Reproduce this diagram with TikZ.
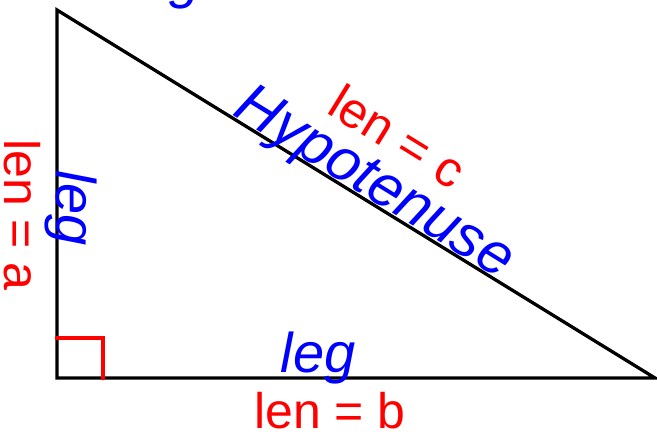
\documentclass[tikz,border=0pt]{standalone}
\usepackage{fontspec}
\setmainfont{Liberation Sans}
\usetikzlibrary{calc}
\tikzset{
 legtext/.style={text=blue,inner sep=0pt,font=\fontsize{56}{60}\selectfont\itshape},
 lentext/.style={text=red,inner sep=0pt,font=\fontsize{50}{54}\selectfont},
}
\begin{document}
\begin{tikzpicture}[x=1pt,y=-1pt,line width=3.3pt]
 \useasboundingbox (0,0) rectangle (657,434);
 % corners of the triangle
 \coordinate (A) at (57,10);
 \coordinate (C) at (57,378);
 \coordinate (B) at (655,378);
 \draw (A)--(C)--(B)--cycle;
 % right angle mark
 \coordinate (R1) at ($(C)+(0,-40)$);
 \coordinate (R2) at ($(C)+(46,-40)$);
 \coordinate (R3) at ($(C)+(46,0)$);
 \draw[red,line width=4.5pt,line cap=round] (R1)--(R2)--(R3);
 % labels
 \node[legtext,anchor=base east] (frag) at (202,-3) {leg};
 \node[legtext,rotate=-90] (legA) at (71,208) {leg};
 \node[lentext,rotate=-90] (lenA) at (22,215) {len = a};
 \node[legtext,anchor=base] (legB) at (318,372) {leg};
 \node[lentext,anchor=base] (lenB) at (330,428) {len = b};
 \node[legtext,anchor=base,rotate=-31.6,font=\fontsize{59}{62}\selectfont\itshape] (hyp) at (366,197) {Hypotenuse};
 \node[lentext,rotate=-31.6] (lenC) at (398,136) {len = c};
\end{tikzpicture}
\end{document}
